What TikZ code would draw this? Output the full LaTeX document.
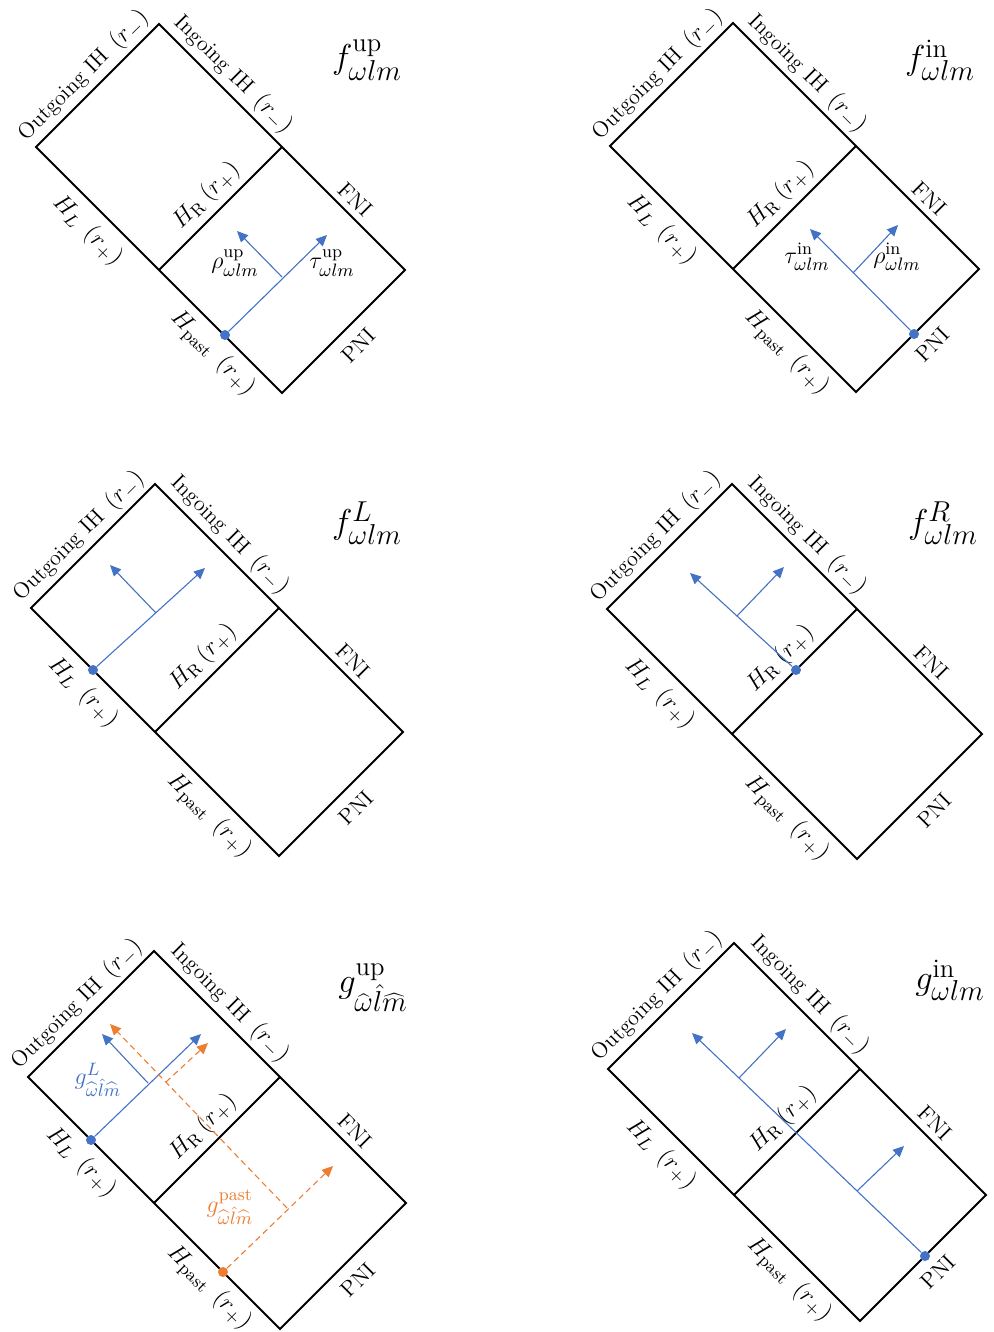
\documentclass[tikz,border=0pt]{standalone}
\usepackage{fontspec}
\usetikzlibrary{calc,arrows.meta}
\definecolor{myblue}{HTML}{4472C4}
\definecolor{myorange}{HTML}{ED7D31}
\newcommand\mth[1]{{\fontsize{12.5}{14}\selectfont$#1$}}
\tikzset{
  edge/.style={line width=1pt, line join=miter},
  lab/.style={font=\fontsize{11}{13}\selectfont, inner sep=0pt},
  mlab/.style={font=\fontsize{12.5}{14}\selectfont, inner sep=0pt},
  ttl/.style={font=\fontsize{19}{22}\selectfont, inner sep=0pt},
  ray/.style={draw=myblue, line width=0.55pt, -{Triangle[length=5.5pt,width=5pt]}},
  oray/.style={draw=myorange, line width=0.55pt, dash pattern=on 3pt off 2pt, -{Triangle[length=5.5pt,width=5pt]}},
  dotb/.style={circle, fill=myblue, inner sep=0pt, minimum size=5pt},
  doto/.style={circle, fill=myorange, inner sep=0pt, minimum size=5pt}
}
% #1 prefix, #2 Tx, #3 Ty, #4 a
\newcommand\penrose[4]{%
  \coordinate (#1T) at (#2,#3);
  \coordinate (#1L) at ({#2-#4},{#3+#4});
  \coordinate (#1ML) at (#2,{#3+2*#4});
  \coordinate (#1MR) at ({#2+#4},{#3+#4});
  \coordinate (#1R) at ({#2+2*#4},{#3+2*#4});
  \coordinate (#1B) at ({#2+#4},{#3+3*#4});
  \draw[edge] (#1T) -- (#1L) -- (#1ML) -- (#1B) -- (#1R) -- (#1MR) -- cycle;
  \draw[edge] (#1ML) -- (#1MR);
  \node[lab, rotate=45] (#1out) at ($(#1T)!0.5!(#1L)+(-14,-10)$) {Outgoing IH\hspace{0.5em}\mth{(r_-)}};
  \node[lab, rotate=-45] (#1in) at ($(#1T)!0.5!(#1MR)+(13,-11)$) {Ingoing IH\hspace{0.5em}\mth{(r_-)}};
  \node[lab, rotate=-45] (#1hl) at ($(#1L)!0.5!(#1ML)+(-10,22)$) {\mth{H_L}\hspace{0.5em}\mth{(r_+)}};
  \node[lab, rotate=45] (#1hr) at ($(#1ML)!0.5!(#1MR)+(-14,-13)$) {\mth{H_{\mathrm{R}}}\hspace{0.25em}\mth{(r_+)}};
  \node[lab, rotate=-45] (#1fni) at ($(#1MR)!0.5!(#1R)+(12,-9)$) {FNI};
  \node[lab, rotate=45] (#1pni) at ($(#1R)!0.5!(#1B)+(15,14)$) {PNI};
  \node[lab, rotate=-45] (#1hp) at ($(#1ML)!0.5!(#1B)+(-8,22)$) {\mth{H_{\mathrm{past}}}\hspace{0.5em}\mth{(r_+)}};
}
\begin{document}
\begin{tikzpicture}[x=0.5pt,y=-0.5pt]
\useasboundingbox (0,0) rectangle (993,1332);

% Panel 1: f^up
\penrose{a}{159}{24}{123}
\node[dotb] (ad) at (225,335) {};
\coordinate (ab) at (282,277);
\coordinate (at1) at (327,235);
\coordinate (at2) at (237,231);
\draw[ray] (ad) -- (at1);
\draw[ray] (ab) -- (at2);
\node[mlab] (arho) at (235,263) {$\rho^{\mathrm{up}}_{\omega lm}$};
\node[mlab] (atau) at (332,263) {$\tau^{\mathrm{up}}_{\omega lm}$};
\node[ttl] (attl) at (367,60) {$f^{\mathrm{up}}_{\omega lm}$};

% Panel 2: f^in
\penrose{b}{733}{23}{123}
\node[dotb] (bd) at (914,334) {};
\coordinate (bb) at (853,273);
\coordinate (bt1) at (810,229);
\coordinate (bt2) at (898,225);
\draw[ray] (bd) -- (bt1);
\draw[ray] (bb) -- (bt2);
\node[mlab] (btau) at (807,257) {$\tau^{\mathrm{in}}_{\omega lm}$};
\node[mlab] (brho) at (897,257) {$\rho^{\mathrm{in}}_{\omega lm}$};
\node[ttl] (bttl) at (940,60) {$f^{\mathrm{in}}_{\omega lm}$};

% Panel 3: f^L
\penrose{c}{155}{484}{124}
\node[dotb] (cd) at (93,670) {};
\coordinate (cb) at (156,613);
\coordinate (ct1) at (205,568);
\coordinate (ct2) at (110,565);
\draw[ray] (cd) -- (ct1);
\draw[ray] (cb) -- (ct2);
\node[ttl] (cttl) at (367,523) {$f^{L}_{\omega lm}$};

% Panel 4: f^R
\penrose{d}{732}{484}{125}
\node[dotb] (dd) at (796,670) {};
\coordinate (db) at (737,616);
\coordinate (dt1) at (690,573);
\coordinate (dt2) at (784,567);
\draw[ray] (dd) -- (dt1);
\draw[ray] (db) -- (dt2);
\node[ttl] (dttl) at (943,523) {$f^{R}_{\omega lm}$};

% Panel 5: g^up
\penrose{e}{154}{951}{126}
\node[dotb] (ed) at (91,1140) {};
\coordinate (eb) at (148,1083);
\coordinate (et1) at (201,1034);
\coordinate (et2) at (102,1034);
\draw[ray] (ed) -- (et1);
\draw[ray] (eb) -- (et2);
\node[mlab, text=myblue] (egl) at (98,1080) {$g^{L}_{\widehat{\omega}\hat{l}\widehat{m}}$};
\node[doto] (eo) at (223,1272) {};
\coordinate (eob) at (287,1208);
\coordinate (eot1) at (333,1166);
\coordinate (eot2) at (110,1024);
\coordinate (eob2) at (166,1082);
\coordinate (eot3) at (208,1043);
\draw[oray] (eo) -- (eot1);
\draw[oray] (eob) -- (eot2);
\draw[oray] (eob2) -- (eot3);
\node[mlab, text=myorange] (egp) at (230,1207) {$g^{\mathrm{past}}_{\widehat{\omega}\hat{l}\widehat{m}}$};
\node[ttl] (ettl) at (373,988) {$g^{\mathrm{up}}_{\widehat{\omega}\hat{l}\widehat{m}}$};

% Panel 6: g^in
\penrose{f}{734}{943}{126}
\node[dotb] (fd) at (925,1256) {};
\coordinate (fb1) at (857,1191);
\coordinate (fb2) at (739,1078);
\coordinate (ft0) at (692,1033);
\coordinate (ft1) at (904,1146);
\coordinate (ft2) at (786,1029);
\draw[ray] (fd) -- (ft0);
\draw[ray] (fb1) -- (ft1);
\draw[ray] (fb2) -- (ft2);
\node[ttl] (fttl) at (950,980) {$g^{\mathrm{in}}_{\omega lm}$};
\end{tikzpicture}
\end{document}
